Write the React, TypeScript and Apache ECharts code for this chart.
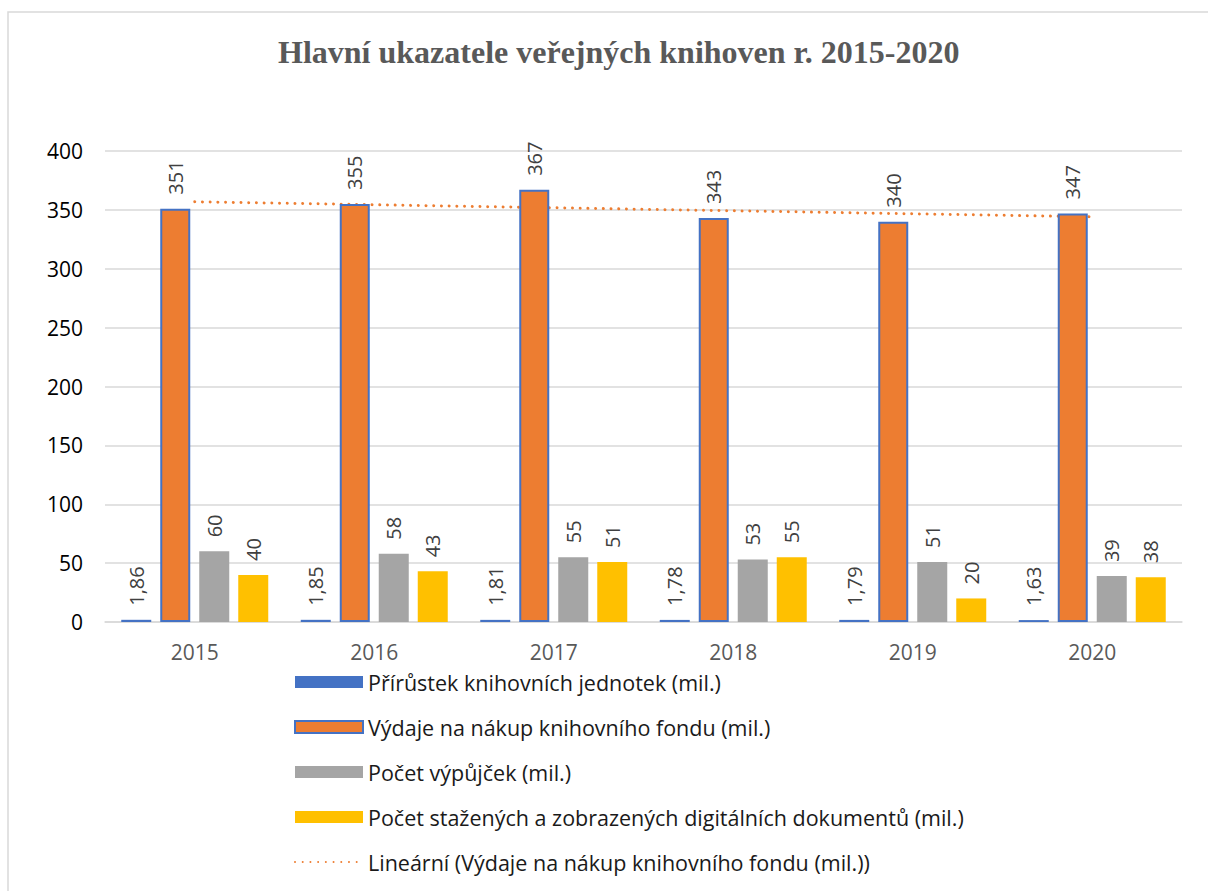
import React, { useEffect, useRef } from "react";
import * as echarts from "echarts";

const years = ["2015", "2016", "2017", "2018", "2019", "2020"];
const prirustek = [1.86, 1.85, 1.81, 1.78, 1.79, 1.63];
const vydaje = [351, 355, 367, 343, 340, 347];
const vypujcky = [60, 58, 55, 53, 51, 39];
const digitalni = [40, 43, 51, 55, 20, 38];
const trend = [356.9, null, null, null, null, 344.1];
const yTicks = { min: 0, max: 400, interval: 50 };

const seriesNames = [
  "Přírůstek knihovních jednotek (mil.)",
  "Výdaje na nákup knihovního fondu (mil.)",
  "Počet výpůjček (mil.)",
  "Počet stažených a zobrazených digitálních dokumentů (mil.)",
  "Lineární (Výdaje na nákup knihovního fondu (mil.))",
];

const FONT = "'Open Sans', 'Noto Sans', sans-serif";

export default function App() {
  const ref = useRef<HTMLDivElement>(null);
  useEffect(() => {
    const chart = echarts.init(ref.current!, null, { renderer: "svg" });
    const label = {
      show: true,
      position: "top" as const,
      rotate: 90,
      align: "left" as const,
      verticalAlign: "middle" as const,
      distance: 14,
      fontSize: 20,
      fontFamily: FONT,
      color: "#404040",
      formatter: (p: any) => String(p.value).replace(".", ","),
    };
    const barCommon = {
      type: "bar" as const,
      barWidth: 30,
      barGap: "30%",
      z: 3,
      label,
    };
    chart.setOption({
      animation: false,
      backgroundColor: "#fff",
      title: {
        text: "Hlavní ukazatele veřejných knihoven r. 2015-2020",
        left: 273,
        top: 31,
        textStyle: {
          fontFamily: "'Liberation Serif', 'Times New Roman', serif",
          fontWeight: "bold",
          fontSize: 32,
          color: "#595959",
        },
      },
      graphic: [
        {
          type: "rect",
          shape: { x: 8, y: 12, width: 1400, height: 1000 },
          style: { fill: "none", stroke: "#d9d9d9", lineWidth: 1.5 },
          silent: true,
        },
      ],
      legend: {
        orient: "vertical",
        left: 289,
        top: 666,
        itemWidth: 68,
        itemHeight: 12,
        itemGap: 23,
        data: [
          { name: seriesNames[0], icon: "rect" },
          { name: seriesNames[1], icon: "rect" },
          { name: seriesNames[2], icon: "rect" },
          { name: seriesNames[3], icon: "rect" },
          { name: seriesNames[4], itemStyle: { opacity: 0 } },
        ],
        textStyle: {
          fontFamily: FONT,
          fontSize: 21.5,
          color: "#1a1a1a",
          lineHeight: 22,
          padding: [0, 0, 0, 0],
        },
      },
      grid: { left: 105, right: 26, top: 151, bottom: 269, containLabel: false },
      xAxis: {
        type: "category",
        data: years,
        axisLine: { show: true, lineStyle: { color: "#d9d9d9", width: 1.5 } },
        axisTick: { show: false },
        axisLabel: {
          fontFamily: FONT,
          fontSize: 21,
          color: "#595959",
          margin: 19,
        },
      },
      yAxis: {
        type: "value",
        min: yTicks.min,
        max: yTicks.max,
        interval: yTicks.interval,
        axisLine: { show: false },
        axisTick: { show: false },
        splitLine: { lineStyle: { color: "#d9d9d9", width: 1.5 } },
        axisLabel: {
          fontFamily: FONT,
          fontSize: 21,
          color: "#000",
          margin: 22,
        },
      },
      series: [
        {
          ...barCommon,
          name: seriesNames[0],
          data: prirustek,
          itemStyle: { color: "#4472C4" },
        },
        {
          ...barCommon,
          name: seriesNames[1],
          data: vydaje,
          itemStyle: { color: "#ED7D31", borderColor: "#4472C4", borderWidth: 2 },
        },
        {
          ...barCommon,
          name: seriesNames[2],
          data: vypujcky,
          itemStyle: { color: "#A5A5A5" },
        },
        {
          ...barCommon,
          name: seriesNames[3],
          data: digitalni,
          itemStyle: { color: "#FFC000" },
        },
        {
          type: "line",
          name: seriesNames[4],
          data: trend,
          connectNulls: true,
          symbol: "none",
          z: 1,
          lineStyle: { color: "#ED7D31", width: 3, type: [0.01, 7.7], cap: "round" },
          itemStyle: { color: "#ED7D31" },
        },
      ],
    });
    return () => chart.dispose();
  }, []);
  return (
    <div
      ref={ref}
      style={{ position: "absolute", left: 0, top: 0, width: 1208, height: 891 }}
    />
  );
}
